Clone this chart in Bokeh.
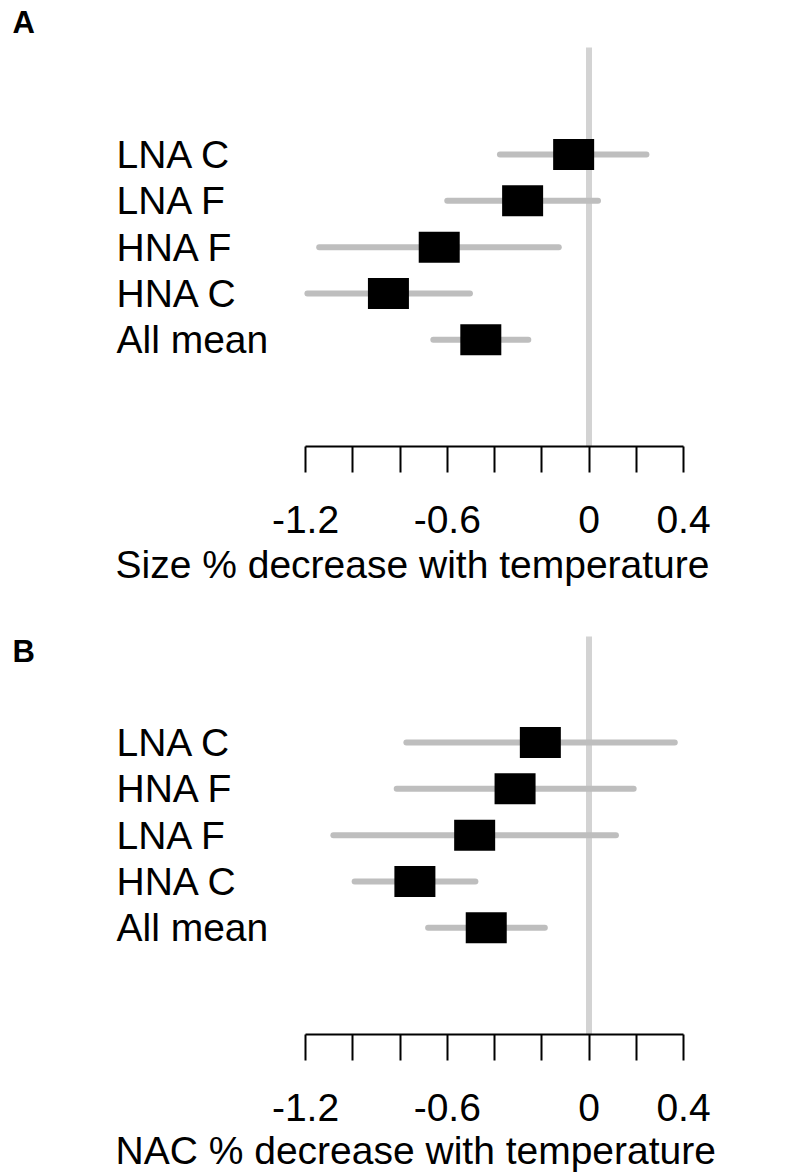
from bokeh.plotting import figure
from bokeh.layouts import column
from bokeh.models import Range1d, FixedTicker, Title
from bokeh.core.properties import value
from bokeh.embed import file_html
from bokeh.resources import INLINE

# ---- data -------------------------------------------------------------
labels_a = ["LNA C", "LNA F", "HNA F", "HNA C", "All mean"]
est_a = [-0.065, -0.281, -0.634, -0.849, -0.458]
lo_a = [-0.377, -0.600, -1.142, -1.192, -0.659]
hi_a = [0.243, 0.038, -0.128, -0.504, -0.257]

labels_b = ["LNA C", "HNA F", "LNA F", "HNA C", "All mean"]
est_b = [-0.206, -0.313, -0.484, -0.737, -0.435]
lo_b = [-0.773, -0.814, -1.082, -0.992, -0.681]
hi_b = [0.363, 0.189, 0.114, -0.481, -0.187]

tick_values = [-1.2, -1.0, -0.8, -0.6, -0.4, -0.2, 0.0, 0.2, 0.4]
tick_labels = ["-1.2", "", "", "-0.6", "", "", "0", "", "0.4"]

title_a = "Size % decrease with temperature"
title_b = "NAC % decrease with temperature"

FONT = "Liberation Sans"
FS = "39px"


def panel(letter, letter_y, labels, est, lo, hi, title, frame_h, bottom,
          y_top, zero_top, title_gap):
    n = len(labels)
    ys = list(range(n, 0, -1))
    y0 = -1.303
    p = figure(frame_width=790, frame_height=frame_h,
               x_range=Range1d(-2.4487, 0.8952), y_range=Range1d(y0, y_top),
               output_backend="svg", toolbar_location=None,
               min_border_left=10, min_border_right=0, min_border_top=0,
               min_border_bottom=bottom, y_axis_location=None)
    p.outline_line_color = None
    p.xgrid.visible = False
    p.ygrid.visible = False

    # zero reference line
    p.segment(x0=[0], y0=[y0], x1=[0], y1=[zero_top], line_width=6,
              line_color="#D3D3D3")
    # confidence intervals
    p.segment(x0=lo, y0=ys, x1=hi, y1=ys, line_width=6,
              line_color="#BEBEBE", line_cap="round")
    # point estimates
    p.rect(x=est, y=ys, width=41, height=31, width_units="screen",
           height_units="screen", fill_color="black", line_color=None)
    # row labels
    p.text(x=[-2.0] * n, y=ys, text=labels, text_font=value(FONT),
           text_font_size=FS, text_baseline="middle", text_align="left",
           text_color="black")
    # panel letter
    p.text(x=[-2.4402], y=[letter_y], text=[letter], text_font=value(FONT),
           text_font_size="31px", text_font_style="bold",
           text_baseline="middle", text_align="left", text_color="black")

    ax = p.xaxis[0]
    ax.ticker = FixedTicker(ticks=tick_values, minor_ticks=[])
    ax.major_label_overrides = dict(zip(tick_values, tick_labels))
    ax.bounds = (-1.2, 0.4)
    ax.axis_line_width = 2
    ax.major_tick_line_width = 2
    ax.major_tick_in = 0
    ax.major_tick_out = 26
    ax.minor_tick_in = 0
    ax.minor_tick_out = 0
    ax.major_label_text_font = FONT
    ax.major_label_text_font_size = FS
    ax.major_label_text_color = "black"
    ax.major_label_standoff = 33

    t = Title(text=title, align="left", offset=105, text_font=FONT,
              text_font_size=FS, text_font_style="normal",
              text_color="black", standoff=title_gap, vertical_align="top")
    p.add_layout(t, "below")
    return p


pa = panel("A", 7.849, labels_a, est_a, lo_a, hi_a, title_a, 446, 150,
           8.324, 7.310, 15)
pb = panel("B", 6.964, labels_b, est_b, lo_b, hi_b, title_b, 438, 142,
           8.151, 7.288, 11)

layout = column(pa, pb, spacing=0)
open("out.html", "w").write(file_html(layout, INLINE))
